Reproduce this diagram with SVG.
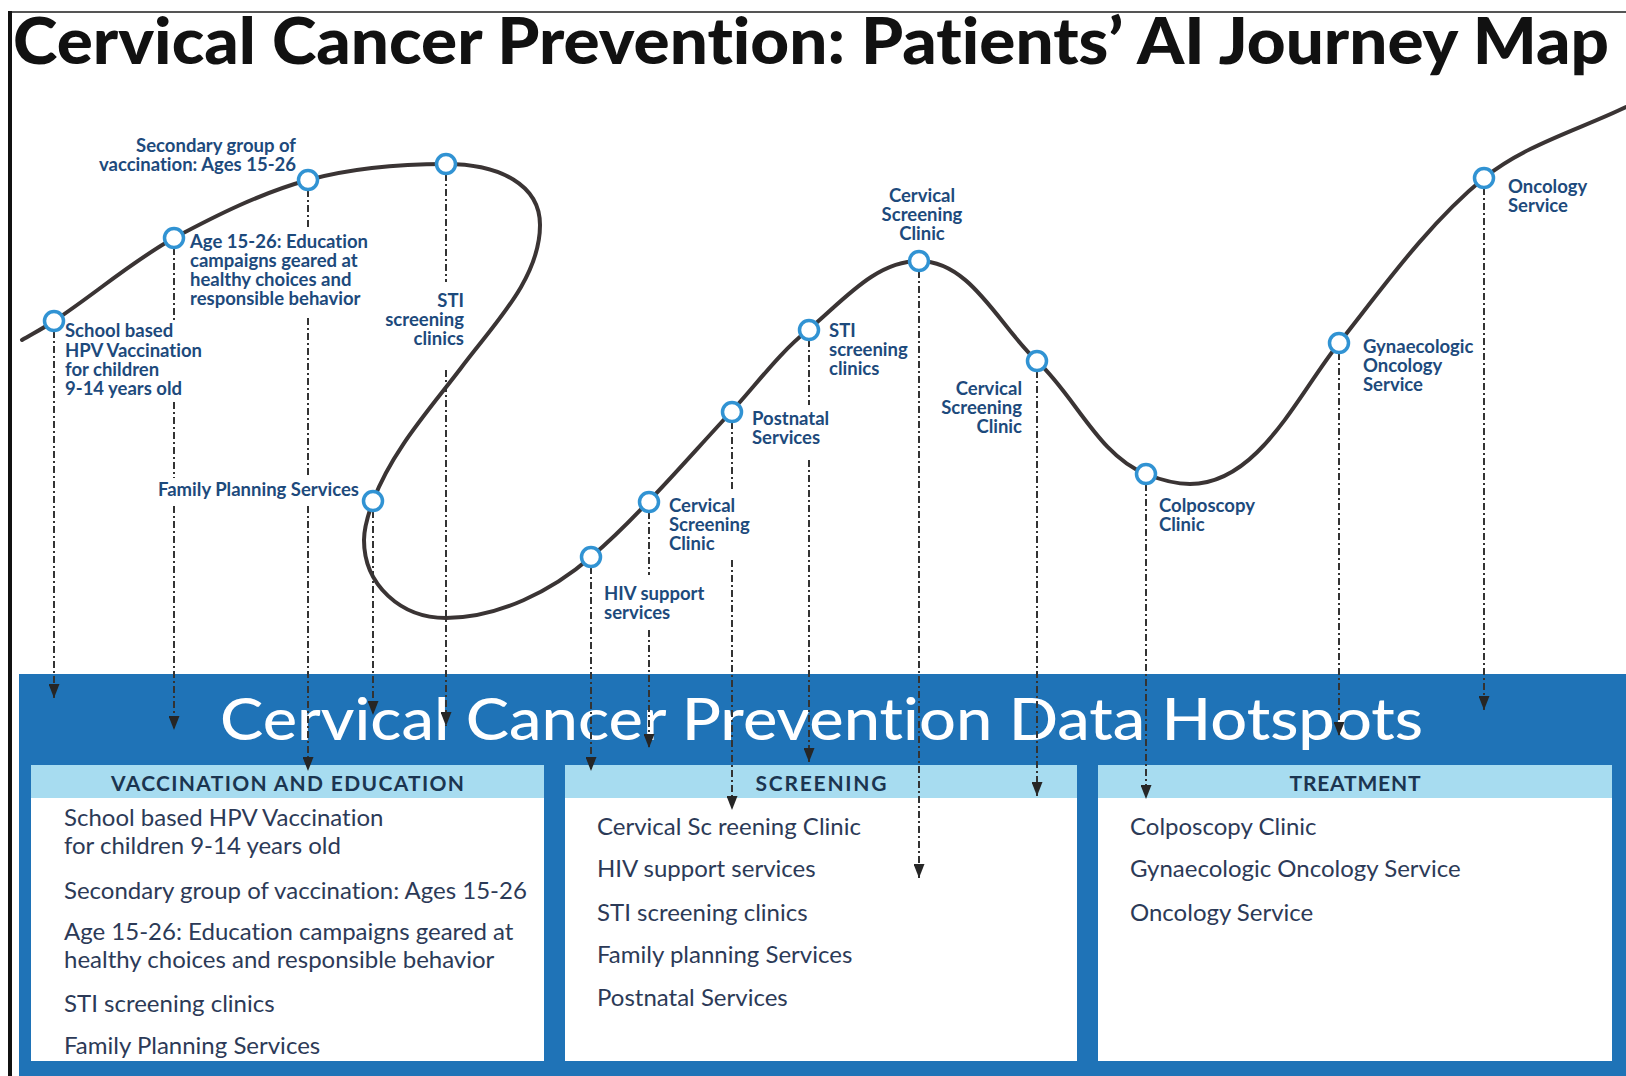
<svg xmlns="http://www.w3.org/2000/svg" width="1626" height="1076" viewBox="0 0 1626 1076">
<defs>
<marker id="arr" viewBox="0 0 14 11" refX="14" refY="5.5" markerWidth="14" markerHeight="11" markerUnits="userSpaceOnUse" orient="auto">
<path d="M0,0 L14,5.5 L0,11 z" fill="#262626"/>
</marker>
<style>
text{font-variant-ligatures:none}
.title{font-family:"Lato","Liberation Sans",sans-serif;font-weight:900;font-size:64px;fill:#111}
.band{font-family:"Lato","Liberation Sans",sans-serif;font-weight:500;font-size:58px;fill:#fff}
.hdr{font-family:"Lato","Liberation Sans",sans-serif;font-weight:700;font-size:21px;fill:#1b3550;text-anchor:middle}
.item{font-family:"Lato","Liberation Sans",sans-serif;font-size:24px;fill:#2c3a57}
.lbl{font-family:"Lato","Liberation Sans",sans-serif;font-weight:700;font-size:18.5px;fill:#1d4a7c}
.end{text-anchor:end}
.mid{text-anchor:middle}
.curve{fill:none;stroke:#3a3434;stroke-width:4;stroke-linecap:round}
.node{fill:#fff;stroke:#3193d3;stroke-width:3.5}
.dl{fill:none;stroke:#333;stroke-width:2;stroke-dasharray:7 3 2 3}
.panel{fill:#fff}
.phead{fill:#a7dcf0}
</style>
</defs>
<rect width="1626" height="1076" fill="#fff"/>
<!-- frame -->
<line x1="10" y1="12" x2="1626" y2="12" stroke="#555" stroke-width="2"/>
<line x1="10" y1="11" x2="10" y2="1076" stroke="#111" stroke-width="4"/>
<text class="title" x="13" y="64" textLength="1596" lengthAdjust="spacingAndGlyphs">Cervical Cancer Prevention: Patients’ AI Journey Map</text>

<!-- bottom band -->
<g id="hotspots">
<rect x="19" y="674" width="1607" height="402" fill="#1f73b7"/>
<text class="band" x="220" y="740" textLength="1203" lengthAdjust="spacingAndGlyphs">Cervical Cancer Prevention Data Hotspots</text>
</g>
<g id="panel-vaccination">
<rect class="panel" x="31" y="765" width="513" height="296"/>
<rect class="phead" x="31" y="765" width="513" height="33"/>
<text class="hdr" x="287.5" y="791" textLength="353">VACCINATION AND EDUCATION</text>
<text class="item" x="64" y="826">School based HPV Vaccination</text>
<text class="item" x="64" y="854">for children 9-14 years old</text>
<text class="item" x="64" y="899">Secondary group of vaccination: Ages 15-26</text>
<text class="item" x="64" y="940">Age 15-26: Education campaigns geared at</text>
<text class="item" x="64" y="968">healthy choices and responsible behavior</text>
<text class="item" x="64" y="1012">STI screening clinics</text>
<text class="item" x="64" y="1054">Family Planning Services</text>
</g>
<g id="panel-screening">
<rect class="panel" x="565" y="765" width="512" height="296"/>
<rect class="phead" x="565" y="765" width="512" height="33"/>
<text class="hdr" x="821" y="791" textLength="131">SCREENING</text>
<text class="item" x="597" y="835">Cervical Sc reening Clinic</text>
<text class="item" x="597" y="877">HIV support services</text>
<text class="item" x="597" y="921">STI screening clinics</text>
<text class="item" x="597" y="963">Family planning Services</text>
<text class="item" x="597" y="1006">Postnatal Services</text>
</g>
<g id="panel-treatment">
<rect class="panel" x="1098" y="765" width="514" height="296"/>
<rect class="phead" x="1098" y="765" width="514" height="33"/>
<text class="hdr" x="1355" y="791" textLength="131">TREATMENT</text>
<text class="item" x="1130" y="835">Colposcopy Clinic</text>
<text class="item" x="1130" y="877">Gynaecologic Oncology Service</text>
<text class="item" x="1130" y="921">Oncology Service</text>
</g>

<!-- journey curve -->
<g id="journey">
<path class="curve" d="M22,340 C32,334 44,328 54,321 C95,294 131,262 174,238 C217,215 261,193 308,180 C352,168 400,164 446,164 C500,164 540,185 540,225 C540,279 493,325 461,368 C429,410 392,451 373,501 C369,512 364,527 364,540 C364,585 401,618 446,618 C498,618 552,591 591,557 C611,540 630,521 648,502 C676,473 703,442 731,412 C756,385 779,353 808,330 C842,302 875,261 919,261 C971,261 999,326 1037,361 C1075,396 1099,456 1146,474 C1161,480 1175,484 1190,484 C1258,484 1297,396 1339,343 C1384,286 1428,224 1484,178 C1525,145 1578,130 1626,107"/>
</g>

<!-- connectors -->
<g id="connectors">
<path class="dl" d="M54,331 V698" marker-end="url(#arr)"/>
<path class="dl" d="M174,248 V320 M174,402 V478"/>
<path class="dl" d="M174,506 V730" marker-end="url(#arr)"/>
<path class="dl" d="M308,190 V230 M308,318 V478"/>
<path class="dl" d="M308,506 V771" marker-end="url(#arr)"/>
<path class="dl" d="M373,511 V715" marker-end="url(#arr)"/>
<path class="dl" d="M446,174 V282"/>
<path class="dl" d="M446,370 V726" marker-end="url(#arr)"/>
<path class="dl" d="M591,567 V771" marker-end="url(#arr)"/>
<path class="dl" d="M649,512 V575"/>
<path class="dl" d="M649,630 V748" marker-end="url(#arr)"/>
<path class="dl" d="M732,422 V492"/>
<path class="dl" d="M732,560 V810" marker-end="url(#arr)"/>
<path class="dl" d="M809,340 V405"/>
<path class="dl" d="M809,460 V762" marker-end="url(#arr)"/>
<path class="dl" d="M919,271 V878" marker-end="url(#arr)"/>
<path class="dl" d="M1037,371 V796" marker-end="url(#arr)"/>
<path class="dl" d="M1146,484 V799" marker-end="url(#arr)"/>
<path class="dl" d="M1339,353 V736" marker-end="url(#arr)"/>
<path class="dl" d="M1484,188 V710" marker-end="url(#arr)"/>
</g>

<!-- touchpoint nodes -->
<g id="n-school"><circle class="node" cx="54" cy="321" r="9.5"/>
<text class="lbl" x="65" y="337">School based</text><text class="lbl" x="65" y="357">HPV Vaccination</text><text class="lbl" x="65" y="376">for children</text><text class="lbl" x="65" y="395">9-14 years old</text></g>
<g id="n-age"><circle class="node" cx="174" cy="238" r="9.5"/>
<text class="lbl" x="190" y="248">Age 15-26: Education</text><text class="lbl" x="190" y="267">campaigns geared at</text><text class="lbl" x="190" y="286">healthy choices and</text><text class="lbl" x="190" y="305">responsible behavior</text></g>
<g id="n-secondary"><circle class="node" cx="308" cy="180" r="9.5"/>
<text class="lbl end" x="296" y="152">Secondary group of</text><text class="lbl end" x="296" y="171">vaccination: Ages 15-26</text></g>
<g id="n-sti1"><circle class="node" cx="446" cy="164" r="9.5"/>
<text class="lbl end" x="464" y="307">STI</text><text class="lbl end" x="464" y="326">screening</text><text class="lbl end" x="464" y="345">clinics</text></g>
<g id="n-fp"><circle class="node" cx="373" cy="501" r="9.5"/>
<text class="lbl end" x="359" y="496">Family Planning Services</text></g>
<g id="n-hiv"><circle class="node" cx="591" cy="557" r="9.5"/>
<text class="lbl" x="604" y="600">HIV support</text><text class="lbl" x="604" y="619">services</text></g>
<g id="n-csc1"><circle class="node" cx="649" cy="502" r="9.5"/>
<text class="lbl" x="669" y="512">Cervical</text><text class="lbl" x="669" y="531">Screening</text><text class="lbl" x="669" y="550">Clinic</text></g>
<g id="n-post"><circle class="node" cx="732" cy="412" r="9.5"/>
<text class="lbl" x="752" y="425">Postnatal</text><text class="lbl" x="752" y="444">Services</text></g>
<g id="n-sti2"><circle class="node" cx="809" cy="330" r="9.5"/>
<text class="lbl" x="829" y="337">STI</text><text class="lbl" x="829" y="356">screening</text><text class="lbl" x="829" y="375">clinics</text></g>
<g id="n-csc2"><circle class="node" cx="919" cy="261" r="9.5"/>
<text class="lbl mid" x="922" y="202">Cervical</text><text class="lbl mid" x="922" y="221">Screening</text><text class="lbl mid" x="922" y="240">Clinic</text></g>
<g id="n-csc3"><circle class="node" cx="1037" cy="361" r="9.5"/>
<text class="lbl end" x="1022" y="395">Cervical</text><text class="lbl end" x="1022" y="414">Screening</text><text class="lbl end" x="1022" y="433">Clinic</text></g>
<g id="n-colp"><circle class="node" cx="1146" cy="474" r="9.5"/>
<text class="lbl" x="1159" y="512">Colposcopy</text><text class="lbl" x="1159" y="531">Clinic</text></g>
<g id="n-gyn"><circle class="node" cx="1339" cy="343" r="9.5"/>
<text class="lbl" x="1363" y="353">Gynaecologic</text><text class="lbl" x="1363" y="372">Oncology</text><text class="lbl" x="1363" y="391">Service</text></g>
<g id="n-onc"><circle class="node" cx="1484" cy="178" r="9.5"/>
<text class="lbl" x="1508" y="193">Oncology</text><text class="lbl" x="1508" y="212">Service</text></g>
</svg>
